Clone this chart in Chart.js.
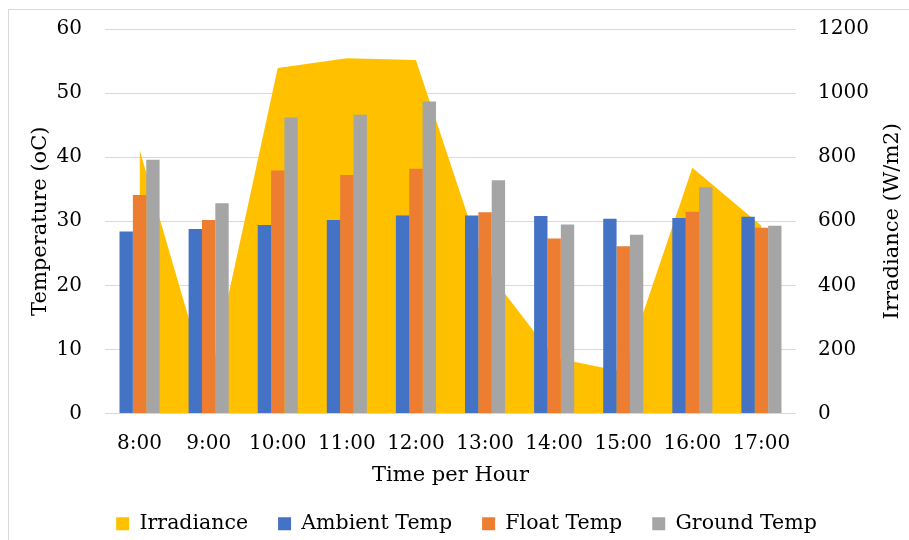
<!DOCTYPE html>
<html>
<head>
<meta charset="utf-8">
<title>Temperature and Irradiance per Hour</title>
<script src="https://cdn.jsdelivr.net/npm/chart.js@4/dist/chart.umd.min.js"></script>
<style>
  html, body { margin: 0; padding: 0; background: #fff; overflow: hidden; }
  #wrap { position: relative; width: 909px; height: 540px; overflow: hidden; }
  #frame { position: absolute; left: 8px; top: 9px; width: 1000px; height: 1000px; border: 1px solid #d9d9d9; }
  #chart { position: absolute; left: 0; top: 0; }
</style>
</head>
<body>
<div id="wrap">
  <div id="frame"></div>
  <canvas id="chart" width="909" height="540"></canvas>
</div>
<script>
// Data
const hours = ['8:00', '9:00', '10:00', '11:00', '12:00', '13:00', '14:00', '15:00', '16:00', '17:00'];
const irradiance = [823, 85, 1078, 1109, 1103, 455, 174, 130, 767, 586];
const ambientTemp = [28.4, 28.8, 29.4, 30.2, 30.9, 30.9, 30.8, 30.4, 30.5, 30.7];
const floatTemp = [34.1, 30.2, 37.9, 37.2, 38.2, 31.4, 27.3, 26.1, 31.5, 29.0];
const groundTemp = [39.6, 32.8, 46.2, 46.6, 48.7, 36.4, 29.5, 27.9, 35.3, 29.3];
const tempTicks = [0, 10, 20, 30, 40, 50, 60];
const irrTicks = [0, 200, 400, 600, 800, 1000, 1200];

// Chart defaults
Chart.defaults.font.family = '"DejaVu Serif", serif';
Chart.defaults.font.size = 20;
Chart.defaults.color = '#000';

const gridColor = '#d9d9d9';
const titleFont = { size: 21 };

// Right axis title reads bottom-to-top like the left one
const rightTitle = {
  id: 'rightTitle',
  beforeDraw(chart) {
    // legend sits a little right of centre in the original
    if (!chart.legend._shifted) {
      chart.legend.left += 12;
      chart.legend.right += 12;
      chart.legend._shifted = true;
    }
  },
  afterDraw(chart) {
    const { ctx, chartArea, scales } = chart;
    ctx.save();
    ctx.font = '21px "DejaVu Serif"';
    ctx.fillStyle = '#000';
    ctx.textAlign = 'center';
    ctx.textBaseline = 'middle';
    ctx.translate(scales.y1.right - 16, (chartArea.top + chartArea.bottom) / 2);
    ctx.rotate(-Math.PI / 2);
    ctx.fillText('Irradiance (W/m2)', 0, 0);
    ctx.restore();
  }
};

function barSet(label, data, color) {
  return {
    type: 'bar',
    label,
    data,
    yAxisID: 'y',
    backgroundColor: color,
    borderWidth: 0,
    categoryPercentage: 0.58,
    barPercentage: 1,
    order: 1
  };
}

// Fixed axis widths, no extra vertical label padding
function fixWidth(w) {
  return scale => {
    scale.width = w;
    scale.paddingTop = 0;
    scale.paddingBottom = 0;
  };
}

new Chart(document.getElementById('chart'), {
  data: {
    labels: hours,
    datasets: [
      {
        type: 'line',
        label: 'Irradiance',
        data: irradiance,
        yAxisID: 'y1',
        fill: 'origin',
        backgroundColor: '#ffc000',
        borderColor: '#ffc000',
        borderWidth: 0,
        pointRadius: 0,
        tension: 0,
        order: 2
      },
      barSet('Ambient Temp', ambientTemp, '#4472c4'),
      barSet('Float Temp', floatTemp, '#ed7d31'),
      barSet('Ground Temp', groundTemp, '#a5a5a5')
    ]
  },
  options: {
    responsive: false,
    animation: false,
    layout: { padding: { top: 29, bottom: -4, left: 0, right: 0 } },
    scales: {
      x: {
        grid: { display: false, drawTicks: false },
        border: { display: false },
        ticks: { padding: 18 },
        title: { display: true, text: 'Time per Hour', font: titleFont, padding: { top: 0, bottom: -5 } },
        afterFit(scale) { scale.height = 70; }
      },
      y: {
        position: 'left',
        min: 0,
        max: 60,
        afterBuildTicks(scale) { scale.ticks = tempTicks.map(v => ({ value: v })); },
        grid: { color: gridColor, drawTicks: false },
        border: { display: false },
        ticks: { padding: 23 },
        title: { display: true, text: 'Temperature (oC)', font: titleFont, padding: { top: 28, bottom: 0 } },
        afterFit: fixWidth(105)
      },
      y1: {
        position: 'right',
        min: 0,
        max: 1200,
        afterBuildTicks(scale) { scale.ticks = irrTicks.map(v => ({ value: v })); },
        grid: { drawOnChartArea: false, drawTicks: false },
        border: { display: false },
        ticks: { padding: 22, callback: v => String(v) },
        afterFit: fixWidth(113)
      }
    },
    plugins: {
      legend: {
        position: 'bottom',
        labels: {
          boxWidth: 13,
          boxHeight: 13,
          padding: 30,
          font: { size: 20.5 },
          sort: (a, b) => a.datasetIndex - b.datasetIndex
        }
      },
      tooltip: { enabled: false }
    }
  },
  plugins: [rightTitle]
});
</script>
</body>
</html>
